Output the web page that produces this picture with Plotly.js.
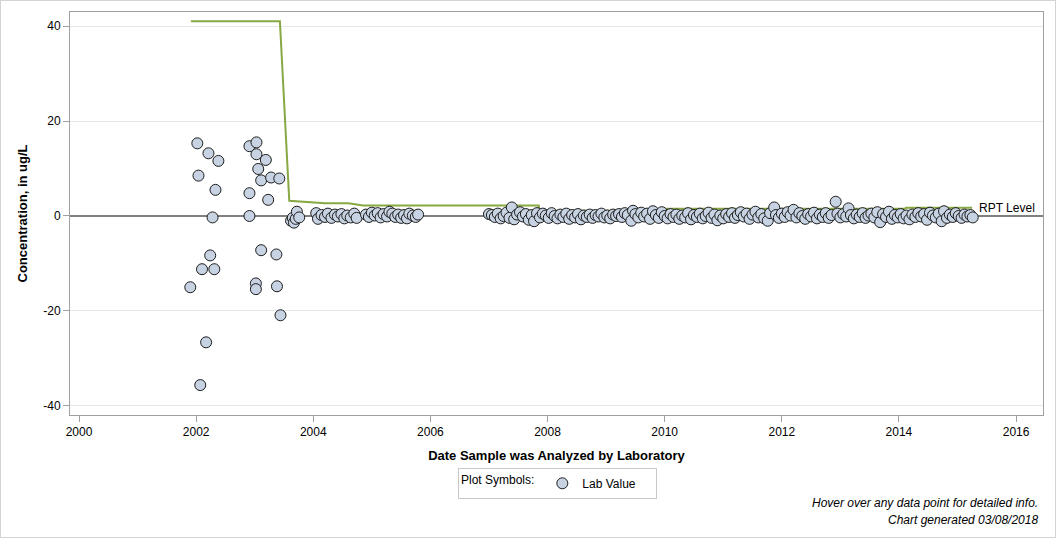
<!DOCTYPE html>
<html>
<head>
<meta charset="utf-8">
<script src="https://cdn.plot.ly/plotly-3.0.1.min.js"></script>
<style>
  html, body { margin: 0; padding: 0; background: #fff; }
  #frame { width: 1054px; height: 536px; border: 1px solid #d3d3d3; }
  #chart { width: 1054px; height: 536px; }
</style>
</head>
<body>
<div id="frame"><div id="chart"></div></div>
<script>
// Lab results: sample analysis date (decimal year) and concentration (ug/L)
const labDates = [
  // 2001-2003 results
  2001.90, 2002.02, 2002.04, 2002.07, 2002.10, 2002.17, 2002.21, 2002.24, 2002.28, 2002.31,
  2002.33, 2002.38, 2002.91, 2002.91, 2002.91, 2003.02, 2003.02, 2003.03, 2003.03, 2003.06,
  2003.11, 2003.11, 2003.19, 2003.23, 2003.28, 2003.37, 2003.38, 2003.42, 2003.44,
  2003.62, 2003.65, 2003.67, 2003.70, 2003.72, 2003.76,
  // 2004-2005
  2004.05, 2004.08, 2004.14, 2004.20, 2004.25, 2004.31, 2004.37, 2004.42, 2004.48, 2004.53,
  2004.58, 2004.64, 2004.70, 2004.74,
  2004.90, 2004.95, 2005.00, 2005.05, 2005.10, 2005.15, 2005.20, 2005.26, 2005.30, 2005.35,
  2005.40, 2005.45, 2005.50, 2005.55, 2005.60, 2005.64, 2005.70, 2005.75, 2005.79,
  // 2007-2015
  2007.00, 2007.05, 2007.10, 2007.15, 2007.20, 2007.25, 2007.30, 2007.35, 2007.39, 2007.43,
  2007.48, 2007.53, 2007.58, 2007.63, 2007.68, 2007.73, 2007.77, 2007.82, 2007.87, 2007.92,
  2007.97, 2008.02, 2008.07, 2008.12, 2008.17, 2008.22, 2008.27, 2008.32, 2008.37, 2008.42,
  2008.47, 2008.52, 2008.57, 2008.62, 2008.67, 2008.72, 2008.77, 2008.82, 2008.87, 2008.92,
  2008.97, 2009.02, 2009.07, 2009.12, 2009.17, 2009.22, 2009.27, 2009.32, 2009.37, 2009.43,
  2009.46, 2009.50, 2009.55, 2009.60, 2009.65, 2009.70, 2009.75, 2009.80, 2009.85, 2009.90,
  2009.95, 2010.00, 2010.05, 2010.10, 2010.15, 2010.20, 2010.25, 2010.30, 2010.35, 2010.40,
  2010.45, 2010.50, 2010.55, 2010.60, 2010.65, 2010.70, 2010.75, 2010.80, 2010.85, 2010.90,
  2010.95, 2011.00, 2011.05, 2011.10, 2011.15, 2011.20, 2011.25, 2011.30, 2011.35, 2011.40,
  2011.45, 2011.50, 2011.55, 2011.60, 2011.65, 2011.70, 2011.76, 2011.80, 2011.87, 2011.90,
  2011.95, 2012.00, 2012.05, 2012.10, 2012.15, 2012.20, 2012.25, 2012.30, 2012.35, 2012.40,
  2012.45, 2012.50, 2012.55, 2012.60, 2012.65, 2012.70, 2012.75, 2012.80, 2012.85, 2012.92,
  2012.95, 2013.00, 2013.05, 2013.10, 2013.14, 2013.18, 2013.23, 2013.28, 2013.33, 2013.38,
  2013.43, 2013.48, 2013.53, 2013.58, 2013.63, 2013.68, 2013.73, 2013.78, 2013.83, 2013.88,
  2013.93, 2013.98, 2014.03, 2014.08, 2014.13, 2014.18, 2014.23, 2014.28, 2014.33, 2014.38,
  2014.43, 2014.48, 2014.53, 2014.58, 2014.63, 2014.68, 2014.73, 2014.77, 2014.82, 2014.87,
  2014.92, 2014.97, 2015.02, 2015.07, 2015.12, 2015.17, 2015.22, 2015.26
];
const labValues = [
  -15.0, 15.3, 8.5, -35.6, -11.2, -26.6, 13.2, -8.3, -0.3, -11.2,
  5.5, 11.6, 14.7, 4.8, 0.0, -14.2, -15.4, 15.5, 13.0, 9.9,
  7.5, -7.2, 11.8, 3.4, 8.1, -8.1, -14.8, 7.9, -20.9,
  -1.0, -0.4, -1.4, -0.6, 0.9, -0.3,
  0.6, -0.6, 0.2, -0.2, 0.5, -0.4, 0.3, -0.1, 0.4, -0.5,
  0.1, -0.3, 0.5, -0.4,
  0.3, -0.2, 0.7, 0.1, 0.6, -0.3, 0.4, -0.1, 0.9, 0.5,
  -0.2, 0.3, -0.4, 0.2, -0.5, 0.5, 0.1, -0.2, 0.3,
  0.4, 0.2, -0.2, 0.5, -0.5, 0.0, 0.7, -0.4, 1.8, -0.7,
  0.3, 0.8, -0.1, 0.4, -0.8, 0.2, -1.1, 0.6, -0.3, 0.5,
  0.1, -0.4, 0.6, 0.0, -0.5, 0.3, -0.2, 0.5, -0.6, 0.2,
  -0.3, 0.4, -0.7, 0.1, -0.2, 0.3, -0.4, 0.2, -0.1, 0.5,
  -0.3, 0.1, -0.5, 0.3, 0.0, 0.4, -0.2, 0.6, 0.2, -1.0,
  1.1, 0.4, -0.3, 0.7, -0.1, 0.5, -0.6, 1.0, 0.2, -0.4,
  0.8, 0.0, -0.5, 0.4, -0.2, 0.3, -0.6, 0.1, -0.3, 0.6,
  -0.7, 0.2, -0.2, 0.5, -0.5, 0.0, 0.7, -0.4, 0.3, -0.9,
  0.1, -0.5, 0.4, -0.2, 0.6, -0.4, 0.2, 0.8, -0.1, 0.5,
  -0.6, 0.3, 0.9, -0.3, 0.4, -0.5, -1.0, 0.6, 1.8, 0.2,
  -0.4, 0.5, -0.2, 0.8, 0.1, 1.3, -0.3, 0.6, 0.0, -0.6,
  0.4, -0.1, 0.7, -0.5, 0.3, -0.2, 0.6, -0.4, 0.2, 3.0,
  0.5, -0.3, 0.4, -0.1, 1.6, 0.2, -0.5, 0.3, -0.2, 0.6,
  -0.4, 0.1, 0.5, -0.3, 0.8, -1.3, 0.4, -0.2, 0.9, -0.6,
  0.2, -0.3, 0.4, -0.5, 0.1, -0.7, 0.3, -0.2, 0.6, -0.1,
  0.4, -0.8, 0.7, 0.1, -0.3, 0.5, -1.1, 1.0, -0.4, 0.3,
  -0.2, 0.6, 0.0, -0.4, 0.3, -0.1, 0.2, -0.3
];

// Reporting level (RPT) through time
const rptDates  = [2001.91, 2003.43, 2003.59, 2004.00, 2004.20, 2004.60, 2004.85, 2007.85, 2007.86, 2010.00, 2010.02, 2014.10, 2014.12, 2015.25];
const rptValues = [41.0, 41.0, 3.2, 2.9, 2.7, 2.7, 2.2, 2.2, 1.1, 1.1, 1.5, 1.5, 1.75, 1.75];

const xTickVals = [2000, 2002, 2004, 2006, 2008, 2010, 2012, 2014, 2016];
const xTickText = ['2000', '2002', '2004', '2006', '2008', '2010', '2012', '2014', '2016'];
const yTickVals = [-40, -20, 0, 20, 40];
const yTickText = ['-40', '-20', '0', '20', '40'];

const FONT = 'Liberation Sans, Arial, Helvetica, sans-serif';

const traces = [
  {
    x: rptDates, y: rptValues,
    type: 'scatter', mode: 'lines',
    line: { color: '#87a843', width: 2 },
    showlegend: false, hoverinfo: 'skip'
  },
  {
    x: labDates, y: labValues,
    type: 'scatter', mode: 'markers',
    name: 'Lab Value',
    marker: { symbol: 'circle', size: 11, color: '#c7d3e3', line: { color: '#1c1c1c', width: 1 } }
  }
];

const layout = {
  width: 1054, height: 536,
  margin: { l: 69, r: 12, t: 11, b: 122 },
  paper_bgcolor: '#ffffff', plot_bgcolor: '#ffffff',
  font: { family: FONT, size: 12, color: '#000' },
  showlegend: true,
  xaxis: {
    range: [1999.846, 2016.46],
    tickvals: xTickVals, ticktext: xTickText,
    ticks: 'outside', ticklen: 6, tickcolor: '#a0a0a0',
    showgrid: false, zeroline: false,
    showline: true, linecolor: '#a0a0a0', linewidth: 1, mirror: true,
    tickfont: { family: FONT, size: 12, color: '#000' },
    title: { text: '<b>Date Sample was Analyzed by Laboratory</b>', font: { family: FONT, size: 13, color: '#000' }, standoff: 12 }
  },
  yaxis: {
    range: [-41.9, 42.95],
    tickvals: yTickVals, ticktext: yTickText,
    ticks: 'outside', ticklen: 6, tickcolor: '#a0a0a0',
    showgrid: true, gridcolor: '#e6e6e6', gridwidth: 1,
    zeroline: true, zerolinecolor: '#808080', zerolinewidth: 2,
    showline: true, linecolor: '#a0a0a0', linewidth: 1, mirror: true,
    tickfont: { family: FONT, size: 12, color: '#000' },
    title: { text: '<b>Concentration, in ug/L</b>', font: { family: FONT, size: 13, color: '#000' }, standoff: 12 }
  },
  legend: {
    orientation: 'h',
    x: 0.501, xanchor: 'center',
    y: -0.131, yanchor: 'top',
    bordercolor: '#c8c8c8', borderwidth: 1,
    bgcolor: '#ffffff',
    entrywidth: 68,
    font: { family: FONT, size: 12, color: '#000' },
    title: { text: 'Plot Symbols:', side: 'left', font: { family: FONT, size: 12, color: '#000' } }
  },
  annotations: [
    { x: 2015.33, y: 1.75, xref: 'x', yref: 'y', xanchor: 'left', yanchor: 'middle', text: 'RPT Level',
      showarrow: false, font: { family: FONT, size: 12, color: '#000' } },
    { x: 0.997, y: -0.218, xref: 'paper', yref: 'paper', xanchor: 'right', yanchor: 'middle',
      text: '<i>Hover over any data point for detailed info.</i>', showarrow: false,
      font: { family: FONT, size: 12, color: '#000' } },
    { x: 0.997, y: -0.261, xref: 'paper', yref: 'paper', xanchor: 'right', yanchor: 'middle',
      text: '<i>Chart generated 03/08/2018</i>', showarrow: false,
      font: { family: FONT, size: 12, color: '#000' } }
  ]
};

Plotly.newPlot('chart', traces, layout, { displayModeBar: false, responsive: false });
</script>
</body>
</html>
